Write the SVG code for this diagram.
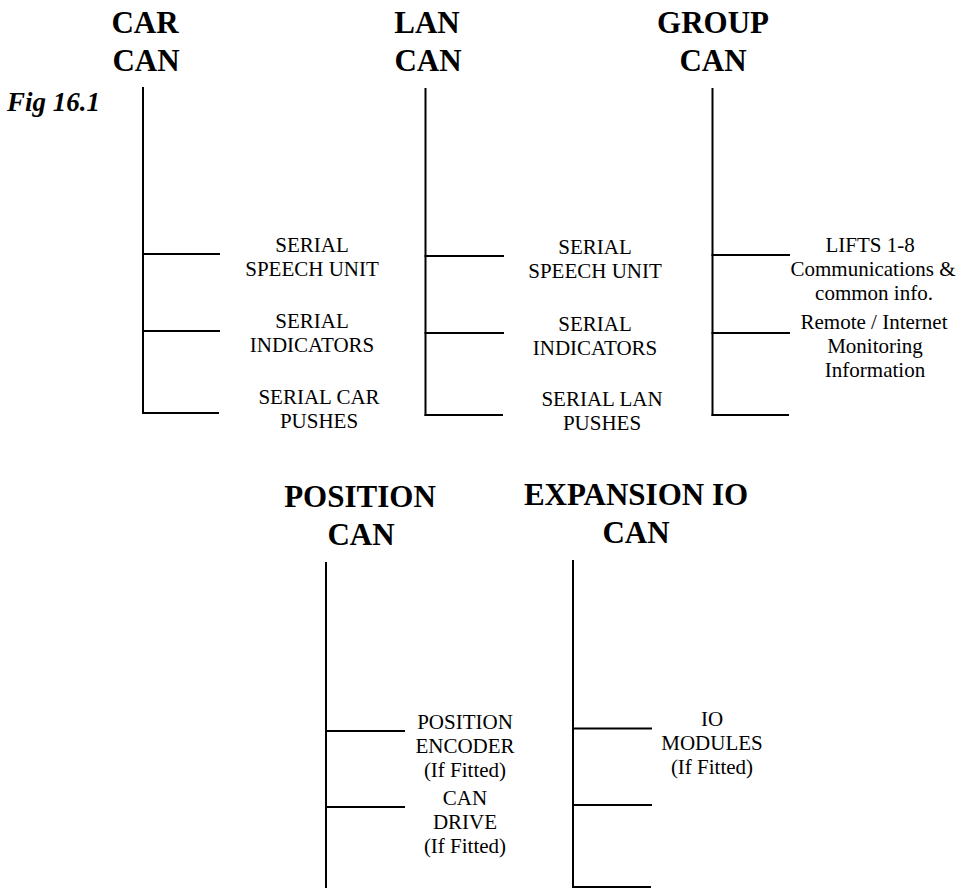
<svg xmlns="http://www.w3.org/2000/svg" width="961" height="888" viewBox="0 0 961 888">
<style>
text{font-family:'Liberation Serif','DejaVu Serif','Times New Roman',Times,serif;fill:#000}
.t{font-weight:bold;font-size:31px;text-anchor:middle}
.l{font-size:21px;text-anchor:middle}
.f{font-weight:bold;font-style:italic;font-size:27px}
.c line{stroke:#000;stroke-width:2;stroke-linecap:square}
</style>
<rect width="961" height="888" fill="#fff"/>
<text class="f" x="7" y="111" font-family="Liberation Serif, DejaVu Serif, serif">Fig 16.1</text>
<g id="car-can"><text class="t" x="145" y="33">CAR</text><text class="t" x="146" y="71">CAN</text></g>
<g id="lan-can"><text class="t" x="427" y="33">LAN</text><text class="t" x="428" y="71">CAN</text></g>
<g id="group-can"><text class="t" x="713" y="33">GROUP</text><text class="t" x="713" y="71">CAN</text></g>
<g id="position-can"><text class="t" x="360" y="507">POSITION</text><text class="t" x="361" y="545">CAN</text></g>
<g id="expansion-can"><text class="t" x="636" y="505">EXPANSION IO</text><text class="t" x="636" y="543">CAN</text></g>
<g id="car-speech"><text class="l" x="312" y="252">SERIAL</text><text class="l" x="312" y="276">SPEECH UNIT</text></g>
<g id="car-ind"><text class="l" x="312" y="328">SERIAL</text><text class="l" x="312" y="352">INDICATORS</text></g>
<g id="car-push"><text class="l" x="319" y="404">SERIAL CAR</text><text class="l" x="319" y="428">PUSHES</text></g>
<g id="lan-speech"><text class="l" x="595" y="254">SERIAL</text><text class="l" x="595" y="278">SPEECH UNIT</text></g>
<g id="lan-ind"><text class="l" x="595" y="331">SERIAL</text><text class="l" x="595" y="355">INDICATORS</text></g>
<g id="lan-push"><text class="l" x="602" y="406">SERIAL LAN</text><text class="l" x="602" y="430">PUSHES</text></g>
<g id="group-lifts"><text class="l" x="870" y="252">LIFTS 1-8</text><text class="l" x="873" y="276">Communications &amp;</text><text class="l" x="874" y="300">common info.</text></g>
<g id="group-remote"><text class="l" x="874" y="329">Remote / Internet</text><text class="l" x="875" y="353">Monitoring</text><text class="l" x="875" y="377">Information</text></g>
<g id="pos-encoder"><text class="l" x="465" y="729">POSITION</text><text class="l" x="465" y="753">ENCODER</text><text class="l" x="465" y="777">(If Fitted)</text></g>
<g id="pos-drive"><text class="l" x="465" y="805">CAN</text><text class="l" x="465" y="829">DRIVE</text><text class="l" x="465" y="853">(If Fitted)</text></g>
<g id="io-modules"><text class="l" x="712" y="726">IO</text><text class="l" x="712" y="750">MODULES</text><text class="l" x="712" y="774">(If Fitted)</text></g>
<g id="connectors" class="c">
<line x1="143" y1="88" x2="143" y2="413"/>
<line x1="143" y1="254" x2="219" y2="254"/>
<line x1="143" y1="331" x2="219" y2="331"/>
<line x1="143" y1="413" x2="218" y2="413"/>
<line x1="425.5" y1="89" x2="425.5" y2="415"/>
<line x1="425.5" y1="256" x2="503" y2="256"/>
<line x1="425.5" y1="333" x2="503" y2="333"/>
<line x1="425.5" y1="415" x2="502" y2="415"/>
<line x1="712.5" y1="89" x2="712.5" y2="415"/>
<line x1="712.5" y1="255" x2="789" y2="255"/>
<line x1="712.5" y1="333" x2="789" y2="333"/>
<line x1="712.5" y1="415" x2="788" y2="415"/>
<line x1="326" y1="563" x2="326" y2="890"/>
<line x1="326" y1="731" x2="404" y2="731"/>
<line x1="326" y1="807" x2="404" y2="807"/>
<line x1="573" y1="561" x2="573" y2="890"/>
<line x1="573" y1="728.5" x2="651" y2="728.5"/>
<line x1="573" y1="805" x2="651" y2="805"/>
<line x1="573" y1="887" x2="650" y2="887"/>
</g>
</svg>
